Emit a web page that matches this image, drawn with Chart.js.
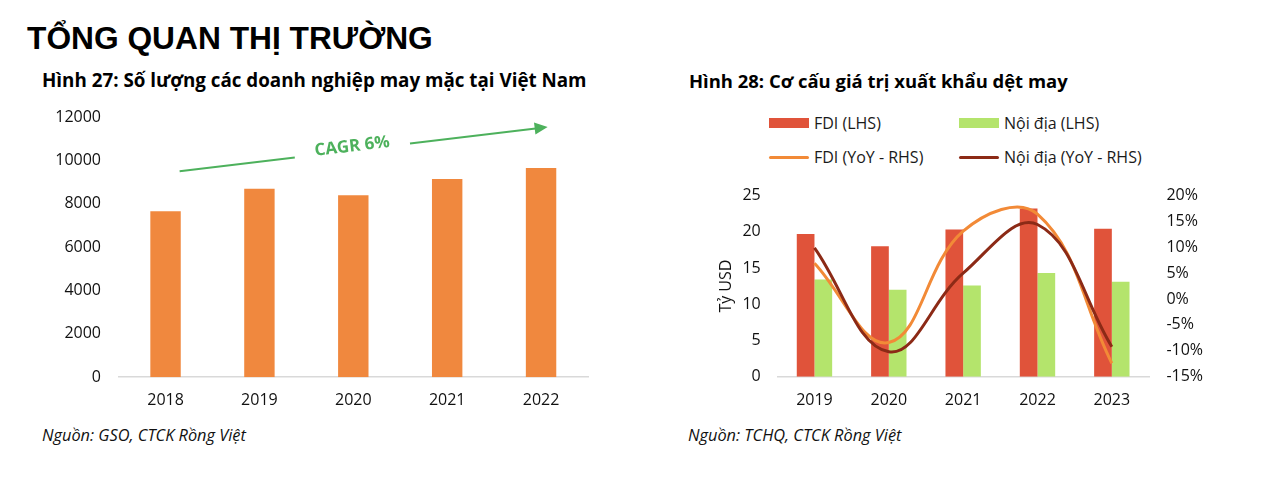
<!DOCTYPE html>
<html>
<head>
<meta charset="utf-8">
<script src="https://cdn.jsdelivr.net/npm/chart.js@4.4.1/dist/chart.umd.min.js"></script>
<style>
  body { margin: 0; background: #fff; }
  #page { position: relative; width: 1264px; height: 480px; overflow: hidden; font-family: 'Open Sans', sans-serif; color: #000; }
  .txt { position: absolute; white-space: nowrap; line-height: 1; }
  #title { left: 27px; font-family: 'Liberation Sans', Arial, sans-serif; font-weight: bold; }
  .sub { font-weight: bold; }
  .src { font-style: italic; color: #111; }
  #c27 { position: absolute; left: 0; top: 100px; }
  #c28 { position: absolute; left: 680px; top: 170px; }
  #legend { position: absolute; left: 769px; top: 106px; display: grid; grid-template-columns: 190px 190px; grid-auto-rows: 34px; align-items: center; font-size: 16px; color: #1a1a1a; }
  .item { display: flex; align-items: center; white-space: nowrap; }
  .sw { width: 40px; margin-right: 5px; }
</style>
</head>
<body>
<div id="page">
  <div id="title" class="txt">TỔNG QUAN THỊ TRƯỜNG</div>
  <div id="sub27" class="txt sub" style="left:42px">Hình 27: Số lượng các doanh nghiệp may mặc tại Việt Nam</div>
  <div id="sub28" class="txt sub" style="left:689px">Hình 28: Cơ cấu giá trị xuất khẩu dệt may</div>
  <canvas id="c27" width="620" height="320"></canvas>
  <div id="legend"></div>
  <canvas id="c28" width="560" height="250"></canvas>
  <div id="src27" class="txt src" style="left:42px">Nguồn: GSO, CTCK Rồng Việt</div>
  <div id="src28" class="txt src" style="left:688px">Nguồn: TCHQ, CTCK Rồng Việt</div>
</div>
<script>
// Hình 27
const years27 = ['2018', '2019', '2020', '2021', '2022'];
const firms = [7660, 8700, 8400, 9150, 9650];
// mũi tên CAGR: [vị trí danh mục, giá trị]
const cagrFrom = [0.15, 9500];
const cagrTo = [4.07, 11550];
const cagrText = 'CAGR 6%';

// Hình 28
const years28 = ['2019', '2020', '2021', '2022', '2023'];
const fdiValue = [19.7, 18.0, 20.3, 23.2, 20.4];
const domesticValue = [13.4, 12.0, 12.6, 14.3, 13.1];
const fdiYoY = [6.9, -8.4, 13.1, 16.4, -12.4];
const domesticYoY = [9.9, -10.2, 5.0, 14.4, -9.2];

const tickFont = { family: "'Open Sans', sans-serif", size: 16 };
const tickColor = '#111';

// đặt chữ theo chiều rộng đo được, baseline cố định
function fitText(id, width, baseline, ascentRatio, size) {
    const el = document.getElementById(id);
    if (!size) {
        el.style.fontSize = '20px';
        size = 20 * width / el.getBoundingClientRect().width;
    }
    el.style.fontSize = size + 'px';
    el.style.top = (baseline - ascentRatio * size) + 'px';
    return size;
}

fitText('title', 406, 50, 0.8465);
fitText('sub28', 379, 88, 0.888);
fitText('sub27', 545, 88, 0.888);
const srcSize = fitText('src27', 204, 441.5, 0.888);
fitText('src28', 0, 441.5, 0.888, srcSize);

// cố định kích thước trục, bỏ phần đệm nhãn để vùng vẽ đúng chỗ
function fixWidth(w) {
    return scale => { scale.width = w; scale.paddingTop = 0; scale.paddingBottom = 0; };
}
function fixHeight(h) {
    return scale => { scale.height = h; scale.paddingLeft = 0; scale.paddingRight = 0; };
}

const cagrPlugin = {
    id: 'cagr',
    afterDatasetsDraw(chart) {
        const { x, y } = chart.scales;
        const ctx = chart.ctx;
        const x0 = x.getPixelForValue(cagrFrom[0]), y0 = y.getPixelForValue(cagrFrom[1]);
        const x1 = x.getPixelForValue(cagrTo[0]), y1 = y.getPixelForValue(cagrTo[1]);
        const ang = Math.atan2(y1 - y0, x1 - x0);
        const len = Math.hypot(x1 - x0, y1 - y0);
        const head = 13;
        ctx.save();
        ctx.translate(x0, y0);
        ctx.rotate(ang);
        ctx.strokeStyle = '#4DB15C';
        ctx.fillStyle = '#4DB15C';
        ctx.lineWidth = 2;
        ctx.beginPath();
        ctx.moveTo(0, 0);
        ctx.lineTo(len * 0.313, 0);
        ctx.moveTo(len * 0.626, 0);
        ctx.lineTo(len - head + 1, 0);
        ctx.stroke();
        ctx.beginPath();
        ctx.moveTo(len, 0);
        ctx.lineTo(len - head, -6);
        ctx.lineTo(len - head, 6);
        ctx.closePath();
        ctx.fill();
        ctx.font = "bold 17px 'Open Sans', sans-serif";
        ctx.textAlign = 'center';
        ctx.textBaseline = 'middle';
        ctx.fillText(cagrText, len * 0.47, -4);
        ctx.restore();
    }
};

new Chart(document.getElementById('c27'), {
    type: 'bar',
    data: {
        labels: years27,
        datasets: [{
            label: 'Số doanh nghiệp',
            data: firms,
            backgroundColor: '#F0883E',
            categoryPercentage: 1,
            barPercentage: 0.324
        }]
    },
    options: {
        responsive: false,
        animation: false,
        layout: { padding: { top: 17.2, right: 32, bottom: 0, left: 0 } },
        plugins: { legend: { display: false }, tooltip: { enabled: false } },
        scales: {
            x: {
                grid: { display: false, drawTicks: false },
                border: { color: '#d9d9d9', width: 1.5 },
                ticks: { font: tickFont, color: tickColor, padding: 14 },
                afterFit: fixHeight(42.8)
            },
            y: {
                min: 0,
                max: 12000,
                grid: { display: false, drawTicks: false },
                border: { display: false },
                ticks: { stepSize: 2000, font: tickFont, color: tickColor, padding: 17.6, callback: v => String(v) },
                afterFit: fixWidth(118.6)
            }
        }
    },
    plugins: [cagrPlugin]
});

const chart28 = new Chart(document.getElementById('c28'), {
    type: 'bar',
    data: {
        labels: years28,
        datasets: [
            {
                label: 'FDI (LHS)',
                data: fdiValue,
                backgroundColor: '#E0533A',
                yAxisID: 'y',
                order: 2
            },
            {
                label: 'Nội địa (LHS)',
                data: domesticValue,
                backgroundColor: '#B4E46C',
                yAxisID: 'y',
                order: 2
            },
            {
                type: 'line',
                label: 'FDI (YoY - RHS)',
                data: fdiYoY,
                borderColor: '#F28A37',
                backgroundColor: '#F28A37',
                borderWidth: 3,
                pointRadius: 0,
                tension: 0.4,
                yAxisID: 'y1',
                order: 1
            },
            {
                type: 'line',
                label: 'Nội địa (YoY - RHS)',
                data: domesticYoY,
                borderColor: '#8C2A16',
                backgroundColor: '#8C2A16',
                borderWidth: 3,
                pointRadius: 0,
                tension: 0.4,
                yAxisID: 'y1',
                order: 0
            }
        ]
    },
    options: {
        responsive: false,
        animation: false,
        datasets: { bar: { categoryPercentage: 0.476, barPercentage: 1 } },
        layout: { padding: { top: 25.5, right: 0, bottom: 0, left: 0 } },
        plugins: { legend: { display: false }, tooltip: { enabled: false } },
        scales: {
            x: {
                grid: { display: false, drawTicks: false },
                border: { color: '#d9d9d9', width: 1.5 },
                ticks: { font: tickFont, color: tickColor, padding: 14 },
                afterFit: fixHeight(43.3)
            },
            y: {
                position: 'left',
                min: 0,
                max: 25,
                grid: { display: false, drawTicks: false },
                border: { display: false },
                ticks: { stepSize: 5, font: tickFont, color: tickColor, padding: 16.6 },
                title: { display: true, text: 'Tỷ USD', font: tickFont, color: tickColor, padding: { top: 36.8, bottom: 0 } },
                afterFit: fixWidth(97.3)
            },
            y1: {
                position: 'right',
                min: -15,
                max: 20,
                grid: { display: false, drawTicks: false },
                border: { display: false },
                ticks: { stepSize: 5, font: tickFont, color: tickColor, padding: 17.4, callback: v => v + '%' },
                afterFit: fixWidth(91)
            }
        }
    }
});

// chú thích dạng lưới 2 cột, lấy màu từ datasets
const legend = document.getElementById('legend');
chart28.data.datasets.forEach(ds => {
    const item = document.createElement('div');
    item.className = 'item';
    const sw = document.createElement('span');
    sw.className = 'sw';
    const isLine = ds.type === 'line';
    sw.style.height = isLine ? '3px' : '10px';
    sw.style.background = isLine ? ds.borderColor : ds.backgroundColor;
    if (isLine) sw.style.borderRadius = '2px';
    const label = document.createElement('span');
    label.textContent = ds.label;
    item.appendChild(sw);
    item.appendChild(label);
    legend.appendChild(item);
});
</script>
</body>
</html>
